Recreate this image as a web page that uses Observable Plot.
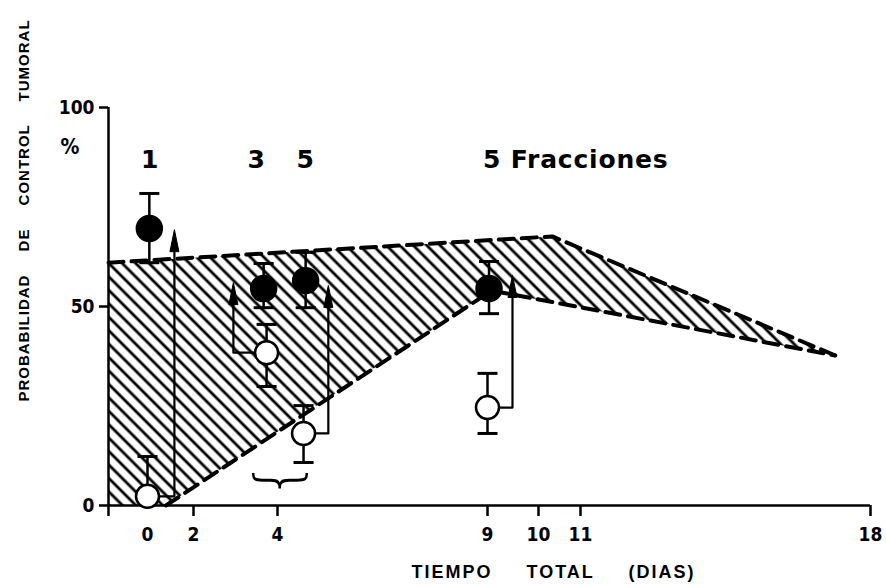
<!DOCTYPE html>
<html><head><meta charset="utf-8">
<script src="https://cdn.jsdelivr.net/npm/d3@7"></script>
<script src="https://cdn.jsdelivr.net/npm/@observablehq/plot@0.6"></script>
<style>
html,body{margin:0;padding:0;background:#fff;}
#chart{width:886px;height:586px;overflow:hidden;}
</style></head><body><div id="chart"></div>
<script>
// ---- tick labels / titles ----
const xTickLabels = [0, 2, 4, 9, 10, 11, 18];
const xTickMarks = [-0.85, 2, 4, 9, 10, 11, 18];
const yTickLabels = [0, 50, 100];
const xTitle = "TIEMPO  TOTAL  (DIAS)";
const yTitle = "PROBABILIDAD DE CONTROL TUMORAL";
const yUnit = "%";

// ---- fraction group labels ----
const groupLabels = ["1", "3", "5", "5 Fracciones"];
const groupLabelDays = [0.02, 3.45, 4.62, 9.05];
const groupLabelPct = [86.7, 86.7, 86.7, 86.7];

// ---- filled circles (with combined treatment) ----
const filledDays = [0.08, 3.67, 4.67, 9.03];
const filledPct = [69.6, 54.5, 56.5, 54.5];
const filledLo = [61, 49.7, 49.7, 48.2];
const filledHi = [78.4, 60.8, 63.6, 61.3];

// ---- open circles ----
const openDays = [0, 3.74, 4.62, 9.0];
const openPct = [2.3, 38.4, 18.1, 24.6];
const openLo = [0, 29.9, 10.8, 18.1];
const openHi = [12.3, 45.5, 25.1, 33.2];

// ---- arrows: shaft day and tip value ----
const arrowShaftDays = [1.17, 2.95, 5.21, 9.49];
const arrowTipPct = [69.3, 56.0, 55.3, 57.8];

// ---- hatched band ----
const bandUpperDays = [-0.85, 10.33, 17.15];
const bandUpperPct = [61, 67.6, 37.7];
const bandLowerDays = [0.8, 9.08, 17.15];
const bandLowerPct = [0, 54, 37.7];

// ---- brace ----
const braceDay = [4.02];
const bracePct = [6.5];

// build tables
const upper = bandUpperDays.map((d, i) => ({d, p: bandUpperPct[i]}));
const lower = bandLowerDays.map((d, i) => ({d, p: bandLowerPct[i]}));
const polygon = [...upper, ...lower.slice().reverse(), {d: bandUpperDays[0], p: 0}];
const filled = filledDays.map((d, i) => ({d, p: filledPct[i], lo: filledLo[i], hi: filledHi[i]}));
const open = openDays.map((d, i) => ({d, p: openPct[i], lo: openLo[i], hi: openHi[i]}));
const caps = [
  ...filled.flatMap(r => [{d: r.d, p: r.lo}, {d: r.d, p: r.hi}]),
  ...open.filter(r => r.lo > 0).map(r => ({d: r.d, p: r.lo})),
  ...open.map(r => ({d: r.d, p: r.hi}))
];
const arrowPaths = open.flatMap((r, i) => [
  {id: i, d: r.d, p: r.p},
  {id: i, d: arrowShaftDays[i], p: r.p},
  {id: i, d: arrowShaftDays[i], p: arrowTipPct[i] - 3}
]);
const arrowHeads = arrowShaftDays.map((d, i) => ({d, p: arrowTipPct[i]}));
const groups = groupLabels.map((t, i) => ({t, d: groupLabelDays[i], p: groupLabelPct[i]}));

const capSymbol = {draw(ctx) { ctx.moveTo(-10, 0); ctx.lineTo(10, 0); }};
const headSymbol = {draw(ctx) { ctx.moveTo(0, 0); ctx.lineTo(4.5, 22); ctx.lineTo(-4.5, 22); ctx.closePath(); }};

const bold = "'DejaVu Sans Condensed','Liberation Sans',sans-serif";
const round = "'DejaVu Sans','Liberation Sans',sans-serif";

const chart = Plot.plot({
  width: 886,
  height: 586,
  marginLeft: 108,
  marginRight: 16,
  marginTop: 107,
  marginBottom: 81,
  style: {fontFamily: bold, fontWeight: "bold", fontSize: "19px", color: "black", background: "white"},
  x: {type: "linear", domain: [-0.85, 0, 2, 4, 9, 10, 11, 18], range: [108, 147, 193, 277, 487, 538, 580, 870]},
  y: {type: "linear", domain: [0, 100], range: [505, 107]},
  marks: [
    Plot.line(polygon, {x: "d", y: "p", fill: "url(#hatch)", stroke: "none", curve: "linear-closed"}),
    Plot.line(upper, {x: "d", y: "p", stroke: "black", strokeWidth: 4, strokeDasharray: "15,8", strokeLinecap: "round"}),
    Plot.line(lower, {x: "d", y: "p", stroke: "black", strokeWidth: 4, strokeDasharray: "15,8", strokeLinecap: "round"}),
    Plot.ruleX([bandUpperDays[0]], {y1: 0, y2: 100, stroke: "black", strokeWidth: 2.5}),
    Plot.ruleY([0], {x1: bandUpperDays[0], x2: 18, stroke: "black", strokeWidth: 2.5}),
    Plot.axisX({ticks: xTickMarks, tickSize: 11, tickFormat: () => "", strokeWidth: 2.5, label: null}),
    Plot.axisX({ticks: xTickLabels, tickSize: 0, tickPadding: 22, fontSize: 19, fontWeight: "bold", label: null}),
    Plot.axisY({ticks: yTickLabels, tickSize: 9, tickPadding: 5, strokeWidth: 2.5, fontSize: 19, fontWeight: "bold", label: null}),
    Plot.line(arrowPaths, {x: "d", y: "p", z: "id", stroke: "black", strokeWidth: 2.2}),
    Plot.dot(arrowHeads, {x: "d", y: "p", symbol: headSymbol, fill: "black", stroke: "black", strokeWidth: 1}),
    Plot.ruleX(filled, {x: "d", y1: "lo", y2: "hi", stroke: "black", strokeWidth: 2.5}),
    Plot.ruleX(open, {x: "d", y1: "lo", y2: "hi", stroke: "black", strokeWidth: 2.5}),
    Plot.dot(caps, {x: "d", y: "p", symbol: capSymbol, stroke: "black", strokeWidth: 3, fill: "none"}),
    Plot.dot(open, {x: "d", y: "p", r: 11.5, fill: "white", stroke: "black", strokeWidth: 2.5}),
    Plot.dot(filled, {x: "d", y: "p", r: 13, fill: "black", stroke: "black"}),
    Plot.text(groups, {x: "d", y: "p", text: "t", textAnchor: "start", fontSize: 25, fontFamily: round, fontWeight: "bold", dx: -7}),
    Plot.text(braceDay, {x: d => d, y: (d, i) => bracePct[i], text: () => "{", rotate: -90, fontSize: 60, fontFamily: "'DejaVu Sans ExtraLight','DejaVu Sans Light','DejaVu Sans',sans-serif", fontWeight: 200}),
    Plot.text([yUnit], {frameAnchor: "top-left", text: d => d, dx: -48, dy: 32, fontSize: 21, fontWeight: "bold"}),
    Plot.text([yTitle], {frameAnchor: "left", textAnchor: "middle", text: d => d, rotate: -90, dx: -84, dy: -96, fontSize: 15, fontWeight: "bold", fontFamily: "'Liberation Sans',sans-serif"}),
    Plot.text([xTitle], {frameAnchor: "bottom", text: d => d, dx: 64, dy: 72, fontSize: 18, fontWeight: "bold", fontFamily: "'Liberation Sans',sans-serif"})
  ]
});

const svg = d3.select(chart);
const defs = svg.insert("defs", ":first-child");
const pat = defs.append("pattern").attr("id", "hatch").attr("patternUnits", "userSpaceOnUse")
  .attr("width", 9.5).attr("height", 9.5).attr("patternTransform", "rotate(-45)");
pat.append("line").attr("x1", 4.75).attr("y1", -1).attr("x2", 4.75).attr("y2", 10.5)
  .attr("stroke", "black").attr("stroke-width", 2.8);
svg.selectAll("text").filter(function() { return this.textContent === yTitle; })
  .style("letter-spacing", "1px").style("word-spacing", "18px");
svg.selectAll("text").filter(function() { return this.textContent === xTitle; })
  .style("letter-spacing", "2px").style("word-spacing", "10px").style("white-space", "pre");
svg.selectAll("text").filter(function() { return this.textContent === "5 Fracciones"; })
  .style("letter-spacing", "0.8px");
document.getElementById("chart").appendChild(chart);
</script></body></html>
